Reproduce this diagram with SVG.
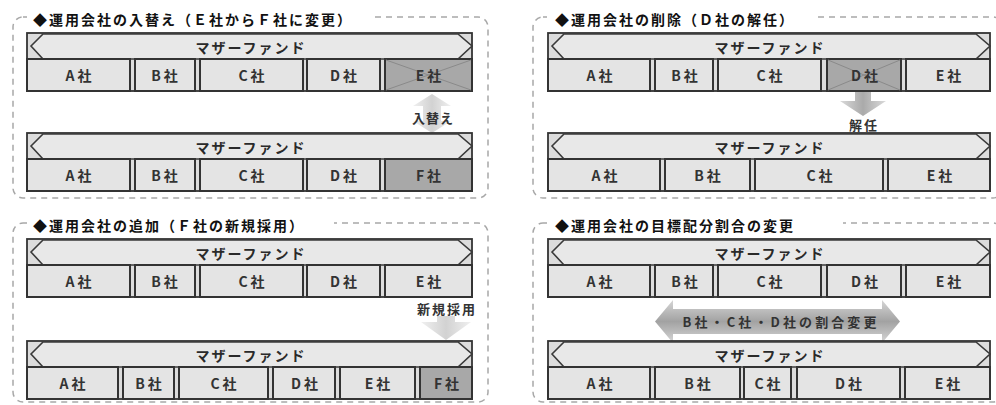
<svg xmlns="http://www.w3.org/2000/svg" width="996" height="405" viewBox="0 0 996 405">
<style>
.panel{fill:none;stroke:#a8a8a8;stroke-width:1.5;stroke-dasharray:6 5}
.mask{fill:#fff}
.title{font-family:"Noto Sans CJK JP",sans-serif;font-weight:bold;font-size:14px;letter-spacing:2px;fill:#111}
.frame{fill:#dcdcdc;stroke:#333;stroke-width:1.8}
.banner{fill:#e8e8e8;stroke:#3a3a3a;stroke-width:1.6}
.cell{fill:#e4e4e4;stroke:#333;stroke-width:2}
.dark{fill:#a8a8a8}
.x{stroke:#8a8a8a;stroke-width:1}
.bt{font-family:"Noto Sans CJK JP",sans-serif;font-weight:bold;font-size:14px;letter-spacing:2px;fill:#2a2a2a;text-anchor:middle}
.ct{font-family:"Noto Sans CJK JP",sans-serif;font-weight:bold;font-size:14px;letter-spacing:3px;fill:#333;text-anchor:middle}
.al{font-family:"Noto Sans CJK JP",sans-serif;font-weight:bold;font-size:13px;letter-spacing:1px;fill:#333;text-anchor:middle}
</style>
<defs>
<linearGradient id="gDown" x1="0" y1="0" x2="1" y2="0">
<stop offset="0" stop-color="#dadada"/><stop offset="0.5" stop-color="#aaaaaa"/><stop offset="1" stop-color="#dadada"/>
</linearGradient>
<linearGradient id="gLight" x1="0" y1="0" x2="1" y2="0">
<stop offset="0" stop-color="#f0f0f0"/><stop offset="0.5" stop-color="#d2d2d2"/><stop offset="1" stop-color="#f0f0f0"/>
</linearGradient>
<linearGradient id="gH" x1="0" y1="0" x2="0" y2="1">
<stop offset="0" stop-color="#d6d6d6"/><stop offset="0.5" stop-color="#a2a2a2"/><stop offset="1" stop-color="#d6d6d6"/>
</linearGradient>
</defs>

<!-- panels -->
<g id="panels">
<rect class="panel" x="13" y="17" width="475" height="181" rx="10"/>
<rect class="panel" x="533" y="17" width="470" height="181" rx="10"/>
<rect class="panel" x="13" y="223" width="475" height="179" rx="10"/>
<rect class="panel" x="533" y="223" width="470" height="179" rx="10"/>
<rect class="mask" x="27" y="8" width="344" height="22"/>
<rect class="mask" x="547" y="8" width="268" height="22"/>
<rect class="mask" x="27" y="213" width="307" height="22"/>
<rect class="mask" x="547" y="213" width="296" height="22"/>
<text class="title" x="33" y="25">◆運用会社の入替え（Ｅ社からＦ社に変更）</text>
<text class="title" x="555" y="25">◆運用会社の削除（Ｄ社の解任）</text>
<text class="title" x="33" y="231">◆運用会社の追加（Ｆ社の新規採用）</text>
<text class="title" x="555" y="231">◆運用会社の目標配分割合の変更</text>
</g>

<!-- connectors -->
<g id="connectors">
<polygon fill="url(#gLight)" points="432,94 451,106 441,106 441,121 451,121 432,133 413,121 423,121 423,106 413,106"/>
<polygon fill="url(#gDown)" points="855,92 871,92 871,101 886,101 863,116 840,101 855,101"/>
<polygon fill="url(#gLight)" points="437,316 455,316 455,322 471,322 446,340 421,322 437,322"/>
<polygon fill="url(#gH)" points="655,321.5 673,300 673,309 882,309 882,300 900,321.5 882,343 882,334 673,334 673,343"/>
<text class="al" x="433" y="123">入替え</text>
<text class="al" x="864" y="130" style="letter-spacing:2px">解任</text>
<text class="al" x="447" y="314" style="letter-spacing:2px">新規採用</text>
<text class="al" x="780" y="327" textLength="195" lengthAdjust="spacing">B社・C社・D社の割合変更</text>
</g>

<!-- Panel 1: before -->
<g id="p1-before">
<rect class="frame" x="27" y="33" width="445" height="58"/>
<polygon class="banner" points="31,46 43,34 458,34 472,46 458,59 43,59"/>
<text class="bt" x="251" y="53">マザーファンド</text>
<rect class="cell" x="27" y="59" width="103" height="32"/>
<rect class="cell" x="135" y="59" width="60" height="32"/>
<rect class="cell" x="200" y="59" width="103" height="32"/>
<rect class="cell" x="307" y="59" width="73" height="32"/>
<rect class="cell dark" x="385" y="59" width="87" height="32"/>
<line class="x" x1="386" y1="60" x2="471" y2="90"/><line class="x" x1="471" y1="60" x2="386" y2="90"/>
<text class="ct" x="80" y="81">A社</text>
<text class="ct" x="166" y="81">B社</text>
<text class="ct" x="253" y="81">C社</text>
<text class="ct" x="345" y="81">D社</text>
<text class="ct" x="430" y="81">E社</text>
</g>

<!-- Panel 1: after -->
<g id="p1-after">
<rect class="frame" x="27" y="133" width="445" height="58"/>
<polygon class="banner" points="31,146 43,134 458,134 472,146 458,159 43,159"/>
<text class="bt" x="251" y="153">マザーファンド</text>
<rect class="cell" x="27" y="159" width="103" height="32"/>
<rect class="cell" x="135" y="159" width="60" height="32"/>
<rect class="cell" x="200" y="159" width="103" height="32"/>
<rect class="cell" x="307" y="159" width="73" height="32"/>
<rect class="cell dark" x="385" y="159" width="87" height="32"/>
<text class="ct" x="80" y="181">A社</text>
<text class="ct" x="166" y="181">B社</text>
<text class="ct" x="253" y="181">C社</text>
<text class="ct" x="345" y="181">D社</text>
<text class="ct" x="430" y="181">F社</text>
</g>

<!-- Panel 2: before -->
<g id="p2-before">
<rect class="frame" x="548" y="33" width="442" height="58"/>
<polygon class="banner" points="552,46 564,34 976,34 990,46 976,59 564,59"/>
<text class="bt" x="770" y="53">マザーファンド</text>
<rect class="cell" x="548" y="59" width="102" height="32"/>
<rect class="cell" x="655" y="59" width="58" height="32"/>
<rect class="cell" x="718" y="59" width="103" height="32"/>
<rect class="cell dark" x="827" y="59" width="74" height="32"/>
<line class="x" x1="828" y1="60" x2="900" y2="90"/><line class="x" x1="900" y1="60" x2="828" y2="90"/>
<rect class="cell" x="906" y="59" width="84" height="32"/>
<text class="ct" x="601" y="81">A社</text>
<text class="ct" x="686" y="81">B社</text>
<text class="ct" x="771" y="81">C社</text>
<text class="ct" x="866" y="81">D社</text>
<text class="ct" x="950" y="81">E社</text>
</g>

<!-- Panel 2: after -->
<g id="p2-after">
<rect class="frame" x="548" y="133" width="442" height="58"/>
<polygon class="banner" points="552,146 564,134 976,134 990,146 976,159 564,159"/>
<text class="bt" x="770" y="153">マザーファンド</text>
<rect class="cell" x="548" y="159" width="112" height="32"/>
<rect class="cell" x="665" y="159" width="85" height="32"/>
<rect class="cell" x="755" y="159" width="128" height="32"/>
<rect class="cell" x="888" y="159" width="102" height="32"/>
<text class="ct" x="606" y="181">A社</text>
<text class="ct" x="709" y="181">B社</text>
<text class="ct" x="821" y="181">C社</text>
<text class="ct" x="941" y="181">E社</text>
</g>

<!-- Panel 3: before -->
<g id="p3-before">
<rect class="frame" x="27" y="239" width="445" height="58"/>
<polygon class="banner" points="31,252 43,240 458,240 472,252 458,265 43,265"/>
<text class="bt" x="251" y="259">マザーファンド</text>
<rect class="cell" x="27" y="265" width="103" height="32"/>
<rect class="cell" x="135" y="265" width="60" height="32"/>
<rect class="cell" x="200" y="265" width="103" height="32"/>
<rect class="cell" x="307" y="265" width="73" height="32"/>
<rect class="cell" x="385" y="265" width="87" height="32"/>
<text class="ct" x="80" y="287">A社</text>
<text class="ct" x="166" y="287">B社</text>
<text class="ct" x="253" y="287">C社</text>
<text class="ct" x="345" y="287">D社</text>
<text class="ct" x="430" y="287">E社</text>
</g>

<!-- Panel 3: after -->
<g id="p3-after">
<rect class="frame" x="27" y="341" width="445" height="58"/>
<polygon class="banner" points="31,354 43,342 458,342 472,354 458,367 43,367"/>
<text class="bt" x="251" y="361">マザーファンド</text>
<rect class="cell" x="27" y="367" width="91" height="32"/>
<rect class="cell" x="123" y="367" width="51" height="32"/>
<rect class="cell" x="179" y="367" width="89" height="32"/>
<rect class="cell" x="273" y="367" width="62" height="32"/>
<rect class="cell" x="340" y="367" width="75" height="32"/>
<rect class="cell dark" x="420" y="367" width="52" height="32"/>
<text class="ct" x="74" y="389">A社</text>
<text class="ct" x="150" y="389">B社</text>
<text class="ct" x="225" y="389">C社</text>
<text class="ct" x="306" y="389">D社</text>
<text class="ct" x="379" y="389">E社</text>
<text class="ct" x="448" y="389">F社</text>
</g>

<!-- Panel 4: before -->
<g id="p4-before">
<rect class="frame" x="548" y="239" width="442" height="58"/>
<polygon class="banner" points="552,252 564,240 976,240 990,252 976,265 564,265"/>
<text class="bt" x="770" y="259">マザーファンド</text>
<rect class="cell" x="548" y="265" width="102" height="32"/>
<rect class="cell" x="655" y="265" width="58" height="32"/>
<rect class="cell" x="718" y="265" width="103" height="32"/>
<rect class="cell" x="827" y="265" width="74" height="32"/>
<rect class="cell" x="906" y="265" width="84" height="32"/>
<text class="ct" x="601" y="287">A社</text>
<text class="ct" x="686" y="287">B社</text>
<text class="ct" x="771" y="287">C社</text>
<text class="ct" x="866" y="287">D社</text>
<text class="ct" x="950" y="287">E社</text>
</g>

<!-- Panel 4: after -->
<g id="p4-after">
<rect class="frame" x="548" y="341" width="442" height="58"/>
<polygon class="banner" points="552,354 564,342 976,342 990,354 976,367 564,367"/>
<text class="bt" x="770" y="361">マザーファンド</text>
<rect class="cell" x="548" y="367" width="102" height="32"/>
<rect class="cell" x="655" y="367" width="85" height="32"/>
<rect class="cell" x="744" y="367" width="47" height="32"/>
<rect class="cell" x="797" y="367" width="103" height="32"/>
<rect class="cell" x="905" y="367" width="85" height="32"/>
<text class="ct" x="601" y="389">A社</text>
<text class="ct" x="699" y="389">B社</text>
<text class="ct" x="769" y="389">C社</text>
<text class="ct" x="850" y="389">D社</text>
<text class="ct" x="949" y="389">E社</text>
</g>
</svg>
